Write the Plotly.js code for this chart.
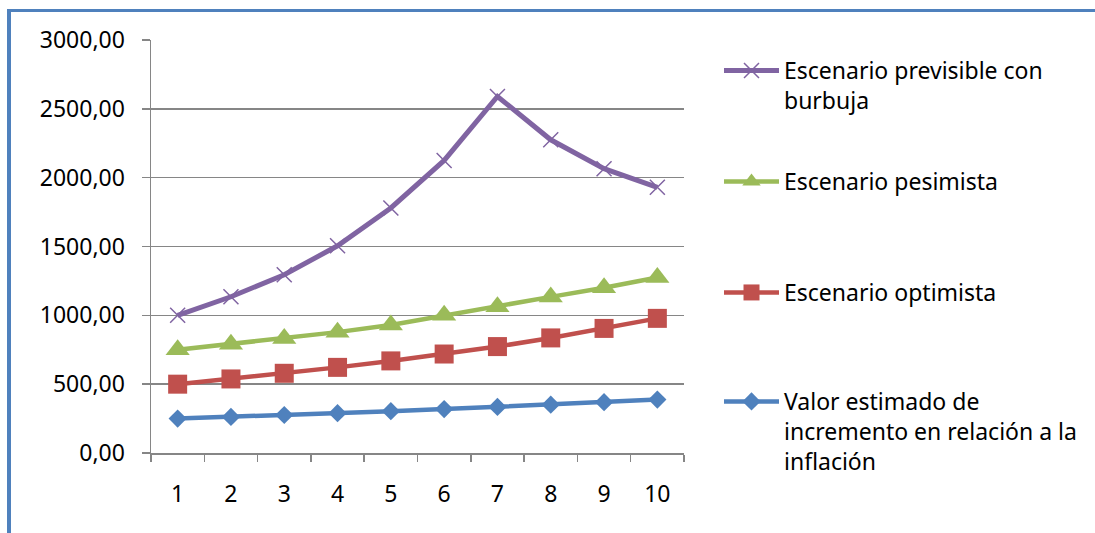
<!DOCTYPE html>
<html>
<head>
<meta charset="utf-8">
<script src="https://cdn.plot.ly/plotly-3.0.1.min.js"></script>
<style>
  html, body { margin: 0; padding: 0; background: #ffffff; }
  #wrap { position: relative; width: 1095px; height: 533px; overflow: hidden; }
  #chart { position: absolute; left: 0; top: 0; width: 1095px; height: 533px; }
  #frame {
    position: absolute; left: 7px; top: 9px; right: -10px; bottom: -10px;
    border-left: 4px solid #4f81bd; border-top: 3px solid #4f81bd;
    pointer-events: none;
  }
</style>
</head>
<body>
<div id="wrap">
  <div id="chart"></div>
  <div id="frame"></div>
</div>
<script>
// Periods on the horizontal axis
const periods = ["1", "2", "3", "4", "5", "6", "7", "8", "9", "10"];

// Series values
const inflacion = [250, 262, 276, 289, 304, 319, 335, 351, 369, 388];
const optimista = [500, 538, 579, 622, 669, 719, 773, 836, 905, 978];
const pesimista = [750, 790, 832, 878, 930, 1000, 1062, 1134, 1200, 1275];
const burbuja   = [1000, 1135, 1295, 1505, 1780, 2125, 2590, 2275, 2065, 1930];

// Series names
const nameInflacion = "Valor estimado de<br>incremento en relación a la<br>inflación";
const nameOptimista = "Escenario optimista";
const namePesimista = "Escenario pesimista";
const nameBurbuja   = "Escenario previsible con<br>burbuja";

const FONT = "Noto Sans, Open Sans, sans-serif";
const LW = 4.5;

const traces = [
  {
    x: periods, y: inflacion, name: nameInflacion, type: "scatter", mode: "lines+markers",
    line: { color: "#4f81bd", width: LW },
    marker: { symbol: "diamond", size: 14, color: "#4f81bd" },
    legend: "legend4"
  },
  {
    x: periods, y: optimista, name: nameOptimista, type: "scatter", mode: "lines+markers",
    line: { color: "#c0504d", width: LW },
    marker: { symbol: "square", size: 19, color: "#c0504d" },
    legend: "legend3"
  },
  {
    x: periods, y: pesimista, name: namePesimista, type: "scatter", mode: "lines+markers",
    line: { color: "#9bbb59", width: LW },
    marker: { symbol: "triangle-up", size: 21, color: "#9bbb59" },
    legend: "legend2"
  },
  {
    x: periods, y: burbuja, name: nameBurbuja, type: "scatter", mode: "lines+markers",
    line: { color: "#8064a2", width: 5 },
    marker: { symbol: "x-thin-open", size: 15, color: "#8064a2", line: { color: "#8064a2", width: 1.5 } },
    legend: "legend"
  }
];

function legendAt(topPx) {
  return {
    xref: "container", yref: "container",
    x: 719 / 1095, y: 1 - topPx / 533,
    xanchor: "left", yanchor: "top",
    bgcolor: "rgba(0,0,0,0)", borderwidth: 0,
    itemwidth: 55, valign: "top",
    font: { family: FONT, size: 23, color: "#000000" }
  };
}

const layout = {
  width: 1095, height: 533,
  margin: { l: 151, r: 411, t: 40, b: 80, pad: 0 },
  paper_bgcolor: "#ffffff", plot_bgcolor: "#ffffff",
  separators: ", ",
  font: { family: FONT, size: 23, color: "#000000" },
  showlegend: true,
  xaxis: {
    type: "category", tickson: "boundaries",
    range: [-0.5, 9.5], autorange: false,
    showgrid: false, zeroline: false,
    showline: true, linecolor: "#868686", linewidth: 1.5,
    ticks: "outside", ticklen: 7, tickcolor: "#868686", tickwidth: 1.5,
    ticklabelstandoff: 20,
    tickfont: { family: FONT, size: 23, color: "#000000" }
  },
  yaxis: {
    range: [0, 3000], dtick: 500, tickformat: ".2f",
    showgrid: true, gridcolor: "#868686", gridwidth: 1.5,
    zeroline: false,
    showline: true, linecolor: "#868686", linewidth: 1.5,
    ticks: "outside", ticklen: 8, tickcolor: "#868686", tickwidth: 1.5,
    ticklabelstandoff: 12,
    tickfont: { family: FONT, size: 23, color: "#000000" }
  },
  legend: legendAt(49),
  legend2: legendAt(160),
  legend3: legendAt(271),
  legend4: legendAt(380)
};

Plotly.newPlot("chart", traces, layout, { displayModeBar: false, staticPlot: true });
</script>
</body>
</html>
